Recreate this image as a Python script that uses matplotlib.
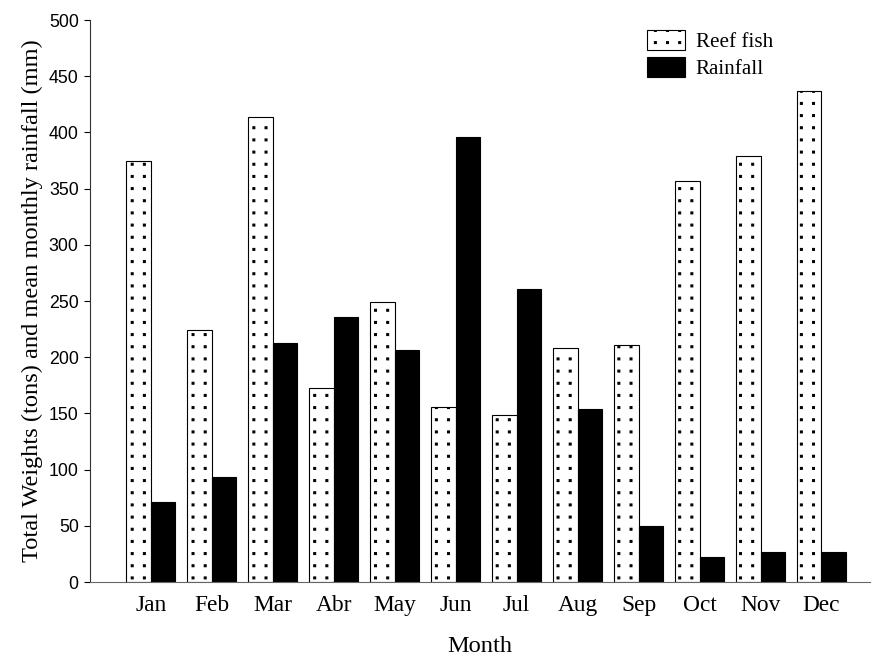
import numpy as np
import matplotlib.pyplot as plt
import matplotlib.hatch as mhatch
from matplotlib.path import Path

months = ['Jan', 'Feb', 'Mar', 'Abr', 'May', 'Jun', 'Jul', 'Aug', 'Sep', 'Oct', 'Nov', 'Dec']
reef_fish = [375, 224, 414, 173, 249, 156, 149, 208, 211, 357, 379, 437]
rainfall = [71, 93, 213, 236, 206, 396, 261, 154, 50, 22, 27, 27]

serif = 'Liberation Serif'
sans = 'Liberation Sans'

W_PX, H_PX = 872, 656
rect = [0.103, 0.1128, 0.895, 0.8567]
xmin, xmax = -1, 11.8
w = 0.4

# hatch tile is one dpi wide: pick the dpi so that the dot grid repeats
# exactly every bar group (2 dot columns per bar, like the original)
group_px = rect[2] * W_PX / (xmax - xmin)
pitch = group_px / 5
DPI = 6 * pitch
S = 80 / DPI
bar_left = rect[0] * W_PX + (0 - w - xmin) * group_px
phase = ((bar_left + pitch / 2) % pitch) / pitch


# square dots on a straight grid instead of matplotlib's staggered circles
class SquareDots(mhatch.HatchPatternBase):
    def __init__(self, hatch, density):
        self.n = hatch.count('.') * density
        self.num_vertices = 5 * self.n * self.n

    def set_vertices_and_codes(self, vertices, codes):
        n = self.n
        h = 1.0 / DPI
        k = 0
        for i in range(n):
            for j in range(n):
                cx = (i + phase) / n
                cy = (j + 0.5) / n
                vertices[k:k + 5] = [[cx - h, cy - h], [cx + h, cy - h], [cx + h, cy + h],
                                     [cx - h, cy + h], [cx - h, cy - h]]
                codes[k:k + 5] = [Path.MOVETO, Path.LINETO, Path.LINETO, Path.LINETO,
                                  Path.CLOSEPOLY]
                k += 5


mhatch._hatch_types = [SquareDots if t is mhatch.SmallFilledCircles else t
                       for t in mhatch._hatch_types]

fig = plt.figure(figsize=(W_PX / DPI, H_PX / DPI), dpi=DPI)
ax = fig.add_axes(rect)

x = np.arange(len(months))
ax.bar(x - w / 2, reef_fish, w, color='white', edgecolor='black', linewidth=1.0 * S,
       hatch='.', label='Reef fish')
ax.bar(x + w / 2, rainfall, w, color='black', edgecolor='black', linewidth=1.0 * S,
       label='Rainfall')

ax.set_xlim(xmin, xmax)
ax.set_ylim(0, 500)
ax.set_yticks(np.arange(0, 501, 50))
ax.set_xticks(x)
ax.set_xticklabels(months, fontfamily=serif, fontsize=21 * S)
for lab in ax.get_yticklabels():
    lab.set_fontfamily(sans)
    lab.set_fontsize(16 * S)
ax.tick_params(axis='x', length=0, pad=12 * S)
ax.tick_params(axis='y', length=5 * S, width=1 * S, direction='out', pad=5 * S)

ax.spines['top'].set_visible(False)
ax.spines['right'].set_visible(False)
ax.spines['left'].set_color('#333333')
ax.spines['left'].set_linewidth(1.0 * S)
ax.spines['bottom'].set_color('#666666')
ax.spines['bottom'].set_linewidth(1.0 * S)

ax.set_xlabel('Month', fontfamily=serif, fontsize=22 * S, labelpad=18 * S)
ax.set_ylabel('Total Weights (tons) and mean monthly rainfall (mm)', fontfamily=serif,
              fontsize=22 * S, labelpad=5 * S)

ax.legend(loc='upper left', bbox_to_anchor=(0.714, 0.982), frameon=False,
          prop={'family': serif, 'size': 19 * S}, handlelength=1.8, handleheight=1.1,
          handletextpad=0.5, labelspacing=0.2, borderpad=0, borderaxespad=0)

plt.savefig('out.png', dpi=DPI)
